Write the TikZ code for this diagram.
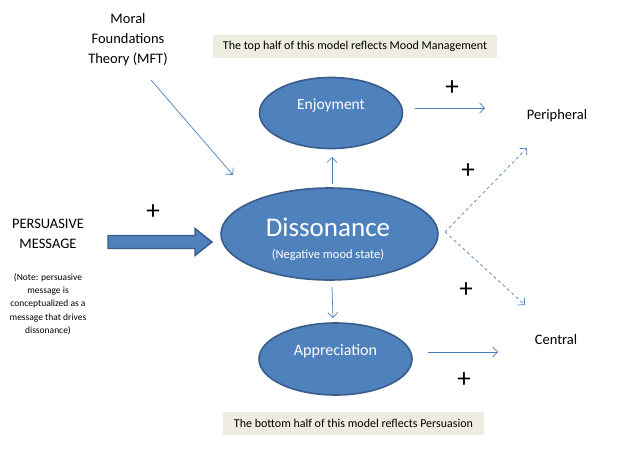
\documentclass[tikz,border=0pt]{standalone}
\usepackage{fontspec}
\setmainfont{Carlito}
\usepackage{xcolor}
\usepackage{tikz}
\usetikzlibrary{arrows.meta, shapes.geometric}

\definecolor{ellfill}{HTML}{4F81BD}
\definecolor{ellline}{HTML}{385D8A}
\definecolor{arrcol}{HTML}{4A7EBB}
\definecolor{boxfill}{HTML}{EEECE1}

\tikzset{
  mood/.style={ellipse, draw=ellline, fill=ellfill, line width=1.6pt, text=white, inner sep=0pt},
  link/.style={draw=arrcol, line width=0.7pt, -{Straight Barb[length=5pt,width=10pt]}},
  plus/.style={inner sep=0pt, font=\fontsize{27}{27}\selectfont},
  note/.style={fill=boxfill, inner sep=0pt, font=\fontsize{12}{14}\selectfont},
  lbl/.style={align=center, font=\fontsize{14.5}{20}\selectfont},
}

\begin{document}
\begin{tikzpicture}[x=1pt, y=-1pt]
            \useasboundingbox (0,0) rectangle (617,452);

            \node[mood, minimum width=143pt, minimum height=71pt] (enj) at (331,113) {};
            \node[font=\fontsize{15.5}{15.5}\selectfont, text=white] (enjT) at (331,105) {Enjoyment};
            \node[mood, minimum width=217pt, minimum height=92pt] (dis) at (329.5,234) {};
            \node[font=\fontsize{27}{27}\selectfont, text=white] (disT) at (328,227) {Dissonance};
            \node[font=\fontsize{12.5}{14}\selectfont, text=white] (disS) at (328,255) {(Negative mood state)};
            \node[mood, minimum width=153pt, minimum height=72pt] (app) at (335.5,359) {};
            \node[font=\fontsize{16}{16}\selectfont, text=white] (appT) at (335.5,351) {Appreciation};

            \node[lbl] (mft) at (128,40) {Moral\\Foundations\\Theory (MFT)};
            \node[lbl] (pm) at (48,234) {PERSUASIVE\\MESSAGE};
            \node[align=center, font=\fontsize{9.5}{13.3}\selectfont] (pmnote) at (48,304) {(Note: persuasive\\message is\\conceptualized as a\\message that drives\\dissonance)};
            \node[lbl] (per) at (557,116) {Peripheral};
            \node[lbl] (cen) at (556,340) {Central};

            \node[note, minimum width=284pt, minimum height=23pt] (top) at (355,46.5) {The top half of this model reflects Mood Management};
            \node[note, minimum width=261pt, minimum height=23pt] (bot) at (353.5,423.5) {The bottom half of this model reflects Persuasion};

            \node[plus] (p1) at (452,88) {+};
            \node[plus] (p2) at (468,171) {+};
            \node[plus] (p3) at (153,212) {+};
            \node[plus] (p4) at (466,290) {+};
            \node[plus] (p5) at (464,380) {+};

            % ends of the arrows
            \coordinate (mftA) at (151,80);
            \coordinate (mftB) at (233,175);
            \coordinate (upA) at (332,184);
            \coordinate (upB) at (332,157);
            \coordinate (dnA) at (332,287);
            \coordinate (dnB) at (333,318);
            \coordinate (enjA) at (415,108);
            \coordinate (perA) at (485,108);
            \coordinate (appA) at (428,352);
            \coordinate (cenA) at (498,352);
            \coordinate (disR) at (445,232);
            \coordinate (perB) at (527,148);
            \coordinate (cenB) at (525,305);

            \draw[link] (mftA) -- (mftB);
            \draw[link] (upA) -- (upB);
            \draw[link] (dnA) -- (dnB);
            \draw[link] (enjA) -- (perA);
            \draw[link] (appA) -- (cenA);
            \draw[link, dashed] (disR) -- (perB);
            \draw[link, dashed] (disR) -- (cenB);

            % block arrow from the message
            \draw[draw=ellline, fill=ellfill, line width=1.4pt, line join=miter]
              (108,235.5) -- (195,235.5) -- (195,228.5) -- (212,242) -- (195,255.5)
              -- (195,248.5) -- (108,248.5) -- cycle;
        \end{tikzpicture}
\end{document}
